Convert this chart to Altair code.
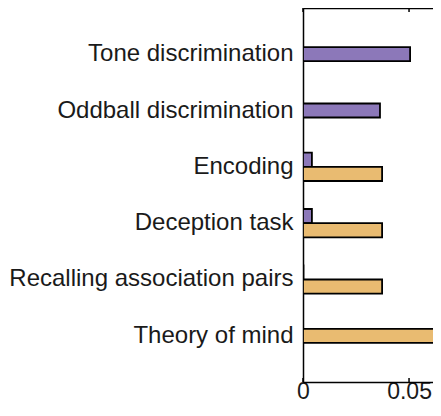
import altair as alt
import pandas as pd

categories = ["Tone discrimination", "Oddball discrimination", "Encoding",
              "Deception task", "Recalling association pairs", "Theory of mind"]
purple_vals = [0.0505, 0.0363, 0.0042, 0.0042, 0.0002, None]
orange_vals = [None, None, 0.0373, 0.0373, 0.0373, 0.0700]
series_names = ["purple", "orange"]
series_colors = ["#8c78b9", "#e9bb71"]
x_ticks = [0, 0.05]

rows = []
for c, p, o in zip(categories, purple_vals, orange_vals):
    paired = p is not None and o is not None
    if p is not None:
        rows.append({"category": c, "series": "purple", "value": p, "paired": paired})
    if o is not None:
        rows.append({"category": c, "series": "orange", "value": o, "paired": paired})
df = pd.DataFrame(rows)
ticks_df = pd.DataFrame({"t": x_ticks})

W, H = 130, 374
XMAX = 0.0613
FONT = "Liberation Sans"

yscale = alt.Scale(domain=categories, paddingInner=0.3, paddingOuter=0.47)
xscale = alt.Scale(domain=[0, XMAX], nice=False, zero=True)
cscale = alt.Scale(domain=series_names, range=series_colors)

y_axis = alt.Axis(title=None, labelFontSize=24, labelFont=FONT, labelColor="#1a1a1a",
                  ticks=False, tickSize=0, domainColor="black", domainWidth=1.5,
                  labelPadding=10, labelLimit=500, grid=False)
x_axis = alt.Axis(title=None, orient="bottom", values=x_ticks, format="~g", labelFontSize=23,
                  labelFont=FONT, labelColor="#1a1a1a", ticks=False, tickSize=0,
                  domainColor="black", domainWidth=1.5, labelPadding=16,
                  labelBaseline="alphabetic", grid=False, labelFlush=False)
x_axis_top = alt.Axis(title=None, orient="top", labels=False, ticks=False,
                      domainColor="black", domainWidth=1.5, grid=False)

base = alt.Chart(df)

single = base.transform_filter("!datum.paired").mark_bar(
    size=14, stroke="black", strokeWidth=1.8, clip=True
).encode(
    y=alt.Y("category:N", scale=yscale, axis=y_axis, sort=categories),
    x=alt.X("value:Q", scale=xscale, axis=x_axis),
    color=alt.Color("series:N", scale=cscale, legend=None),
)

paired = base.transform_filter("datum.paired").mark_bar(
    stroke="black", strokeWidth=1.8, clip=True
).encode(
    y=alt.Y("category:N", scale=yscale, axis=y_axis, sort=categories),
    yOffset=alt.YOffset("series:N", scale=alt.Scale(domain=series_names, paddingInner=0,
                                                    paddingOuter=0.39)),
    x=alt.X("value:Q", scale=xscale, axis=x_axis_top),
    color=alt.Color("series:N", scale=cscale, legend=None),
)

ticks_bottom = alt.Chart(ticks_df).mark_rule(color="black", strokeWidth=1.5).encode(
    x=alt.X("t:Q", scale=xscale, axis=None),
    y=alt.value(H),
    y2=alt.value(H - 4),
)
ticks_top = alt.Chart(ticks_df).mark_rule(color="black", strokeWidth=1.5).encode(
    x=alt.X("t:Q", scale=xscale, axis=None),
    y=alt.value(0),
    y2=alt.value(4),
)

chart = alt.layer(single, paired, ticks_bottom, ticks_top).resolve_axis(
    x="independent"
).properties(
    width=W, height=H,
    autosize=alt.AutoSizeParams(type="none"),
    padding={"left": 295, "top": 0, "right": 0, "bottom": 24},
).configure_view(stroke=None).configure(background="white")

chart.save("out.html", embed_options={"renderer": "svg", "actions": False})
